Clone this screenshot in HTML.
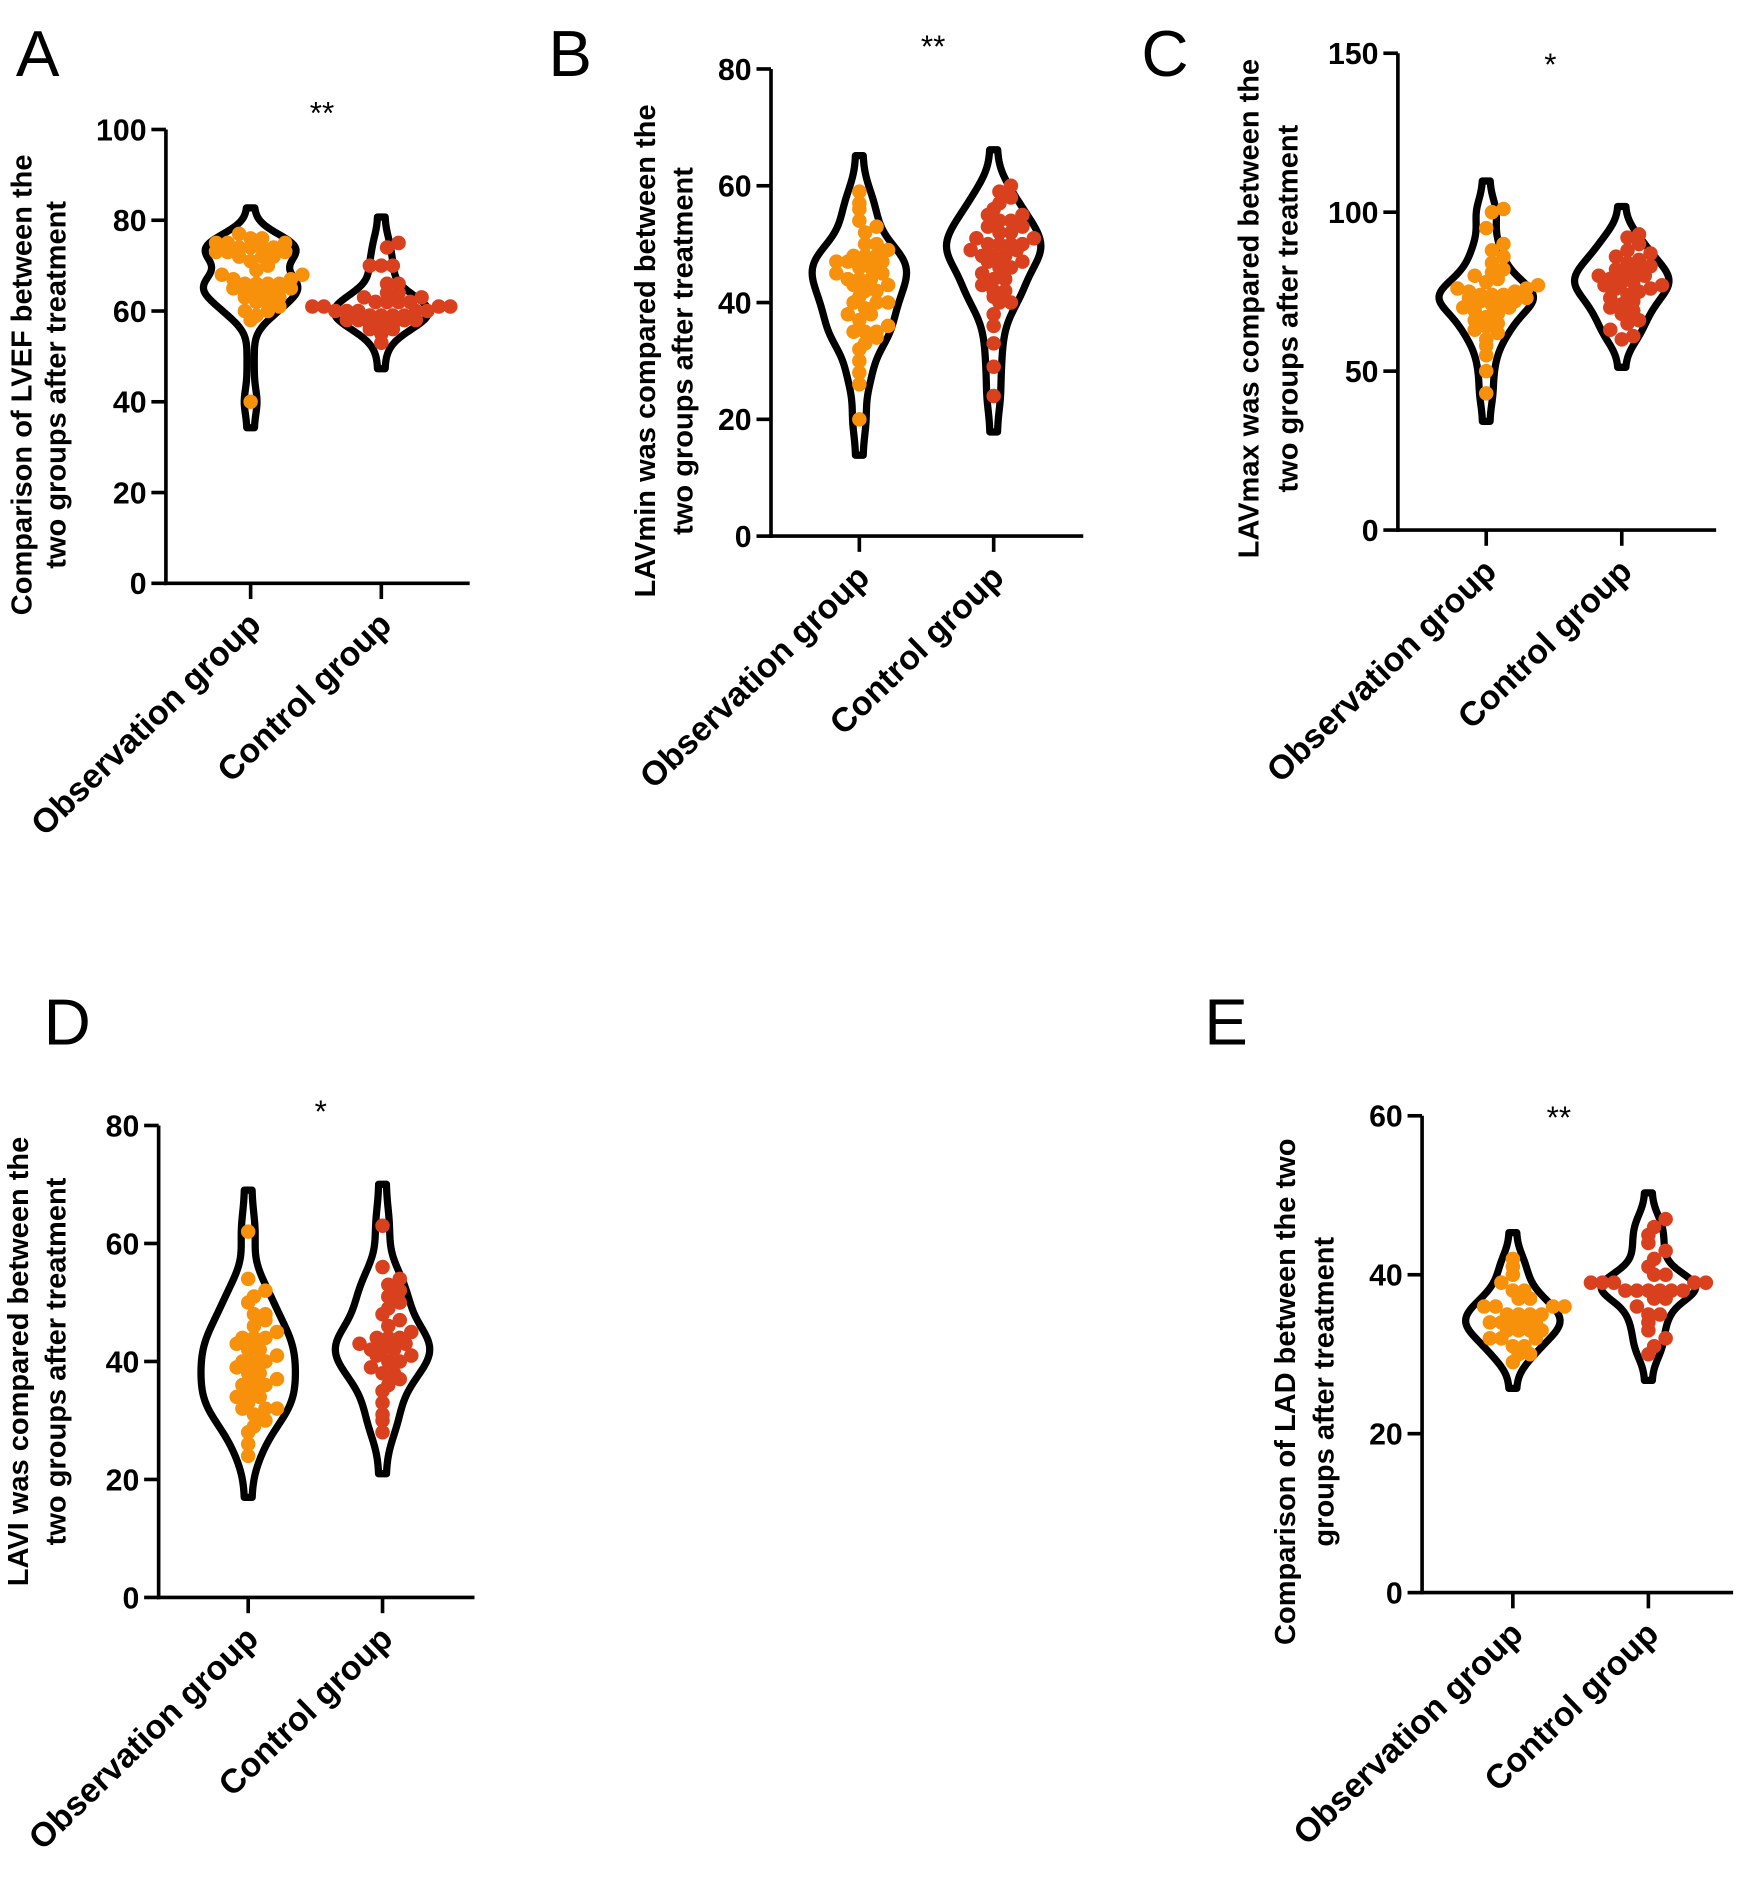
<!DOCTYPE html>
<html><head><meta charset="utf-8">
<style>
html,body{margin:0;padding:0;background:#fff;}
svg{display:block;}
text{font-family:"Liberation Sans",Arial,sans-serif;}
</style></head>
<body>
<svg id="fig" width="1755" height="1900" viewBox="0 0 1450 1570" xmlns="http://www.w3.org/2000/svg"></svg>
<script>
// ---- data ----
const groups = ["Observation group", "Control group"];
const aObs = [40,58,59,60,60,61,62,62,63,63,64,64,64,65,65,65,66,66,66,66,67,67,68,68,69,70,71,72,72,72,73,73,73,74,74,74,74,75,75,75,76,76,77];
const aCtl = [53,55,56,56,57,57,57,58,58,58,58,59,59,59,59,60,60,60,60,60,61,61,61,61,62,62,62,62,63,63,64,64,66,66,70,70,70,74,75];
const aTicks = [0,20,40,60,80,100];
const bObs = [20,26,28,30,32,33,34,35,35,35,36,37,38,38,39,40,40,40,41,42,42,43,43,44,44,44,45,45,46,46,47,47,47,48,48,48,49,50,50,52,53,54,56,57,59];
const bCtl = [24,29,33,36,38,40,40,41,42,42,43,44,44,45,46,46,47,47,48,48,48,49,49,50,50,50,50,51,51,52,52,53,53,54,54,55,55,56,57,58,59,60];
const bTicks = [0,20,40,60,80];
const cObs = [43,50,55,58,60,62,63,64,65,66,67,68,69,70,70,71,72,72,72,73,73,74,74,74,75,75,76,76,77,78,79,80,81,82,84,86,88,90,95,100,101];
const cCtl = [60,61,63,65,66,68,69,70,71,72,73,74,75,76,76,77,77,78,78,79,80,80,81,82,82,83,84,85,86,87,88,90,92,93];
const cTicks = [0,50,100,150];
const dObs = [24,26,28,29,30,31,32,32,32,33,34,34,35,36,36,36,37,38,38,39,40,40,40,41,42,42,43,44,44,44,45,46,47,48,48,50,51,52,54,62];
const dCtl = [28,30,31,33,35,36,37,38,38,39,40,40,41,41,42,42,42,43,43,44,44,44,45,46,47,48,49,50,51,52,53,54,56,63];
const dTicks = [0,20,40,60,80];
const eObs = [29,30,30,31,31,32,32,32,33,33,33,33,34,34,34,34,34,35,35,35,35,36,36,36,36,37,37,38,38,39,40,41,42];
const eCtl = [30,31,32,33,34,35,35,36,37,37,38,38,38,38,38,38,39,39,39,39,39,40,40,41,42,43,44,45,46,47];
const eTicks = [0,20,40,60];

const NS="http://www.w3.org/2000/svg";
const svg=document.getElementById('fig');
function mk(tag,attrs,parent){const e=document.createElementNS(NS,tag);for(const k in attrs)e.setAttribute(k,attrs[k]);(parent||svg).appendChild(e);return e;}

const panels=[
 {id:'a',letter:'A',lx:13,ly:63,ax:137,top:107,bot:482,xend:388,gx:[207,315],max:100,ticks:aTicks,data:[aObs,aCtl],sig:'**',sx:266,sy:90,bw:2.6,tx:[18,46],ty:318,title:["Comparison of LVEF between the","two groups after treatment"]},
 {id:'b',letter:'B',lx:453,ly:63,ax:637,top:57,bot:443,xend:895,gx:[710,821],max:80,ticks:bTicks,data:[bObs,bCtl],sig:'**',sx:771,sy:35,bw:2.8,tx:[533,564],ty:290,title:["LAVmin was compared between the","two groups after treatment"]},
 {id:'c',letter:'C',lx:943,ly:63,ax:1155,top:44,bot:438,xend:1418,gx:[1228,1340],max:150,ticks:cTicks,data:[cObs,cCtl],sig:'*',sx:1281,sy:50,bw:4,tx:[1032,1064],ty:255,title:["LAVmax was compared between the","two groups after treatment"]},
 {id:'d',letter:'D',lx:36,ly:863,ax:131,top:930,bot:1320,xend:392,gx:[205,316],max:80,ticks:dTicks,data:[dObs,dCtl],sig:'*',sx:265,sy:915,bw:3.2,tx:[15,46],ty:1125,title:["LAVI was compared between the","two groups after treatment"]},
 {id:'e',letter:'E',lx:995,ly:863,ax:1175,top:922,bot:1316,xend:1432,gx:[1250,1362],max:60,ticks:eTicks,data:[eObs,eCtl],sig:'**',sx:1288,sy:920,bw:1.5,tx:[1062,1094],ty:1150,title:["Comparison of LAD between the two","groups after treatment"]}
];
const colors=['#F7900A','#D9401E'];

panels.forEach(p=>{
  const g=mk('g',{});
  
  
  const y=v=>p.bot-(v/p.max)*(p.bot-p.top);
  const L=mk('text',{x:p.lx,y:p.ly,'font-size':54},g);L.textContent=p.letter;
  
  
  const ya=mk('line',{x1:p.ax,y1:p.top,x2:p.ax,y2:p.bot+1.5,stroke:'#000','stroke-width':3},g);
  
  
  const xa=mk('line',{x1:p.ax-1.5,y1:p.bot,x2:p.xend,y2:p.bot,stroke:'#000','stroke-width':3},g);
  
  
  p.ticks.forEach(t=>{
    mk('line',{x1:p.ax-12,y1:y(t),x2:p.ax,y2:y(t),stroke:'#000','stroke-width':3},g);
    const tl=mk('text',{x:p.ax-16,y:y(t)+9,'font-size':25,'font-weight':'bold','text-anchor':'end'},g);
    tl.textContent=t;
    
    
  });
  p.title.forEach((s,i)=>{
    const t=mk('text',{x:p.tx[i],y:p.ty,'font-size':24,'font-weight':'bold','text-anchor':'middle',transform:`rotate(-90 ${p.tx[i]} ${p.ty})`,dy:8},g);
    t.textContent=s;
    
    
  });
  const sg=mk('text',{x:p.sx,y:p.sy+12,'font-size':26,'text-anchor':'middle'},g);sg.textContent=p.sig;
  
  
  p.data.forEach((vals,gi)=>{
    const cx=p.gx[gi];
    mk('line',{x1:cx,y1:p.bot,x2:cx,y2:p.bot+13,stroke:'#000','stroke-width':3},g);
    const ax=cx+10, ay=p.bot+36;
    const xl=mk('text',{x:ax,y:ay,'font-size':28,'font-weight':'bold','text-anchor':'end',transform:`rotate(-44 ${ax} ${ay})`},g);
    xl.textContent=groups[gi];
    
    
    const mn=Math.min(...vals)-2.2*p.bw, mx=Math.max(...vals)+2.2*p.bw;
    const N=100, dens=[];
    for(let i=0;i<=N;i++){const v=mn+(mx-mn)*i/N;let s=0;vals.forEach(d=>{const z=(v-d)/p.bw;s+=Math.exp(-0.5*z*z);});dens.push([v,s]);}
    const dm=Math.max(...dens.map(d=>d[1]));
    const W=36;
    let path='';
    dens.forEach((d,i)=>{path+=(i?'L':'M')+(cx+W*d[1]/dm+3)+' '+y(d[0]);});
    for(let i=dens.length-1;i>=0;i--){path+='L'+(cx-W*dens[i][1]/dm-3)+' '+y(dens[i][0]);}
    path+='Z';
    const vp=mk('path',{d:path,fill:'#fff',stroke:'#000','stroke-width':6,'stroke-linejoin':'round'},g);
    
    
    const step=(p.max/(p.bot-p.top))*9;
    const bins={};
    vals.forEach(v=>{const k=Math.round(v/step);(bins[k]=bins[k]||[]).push(v);});
    Object.keys(bins).forEach(k=>{
      bins[k].forEach((v,i)=>{
        const off=(i%2?1:-1)*Math.ceil(i/2)*9.5 + (bins[k].length%2?0:4.75);
        const c=mk('circle',{cx:cx+off,cy:y(v),r:6,fill:colors[gi]},g);
        
        
      });
    });
  });
});
</script>
</body></html>
